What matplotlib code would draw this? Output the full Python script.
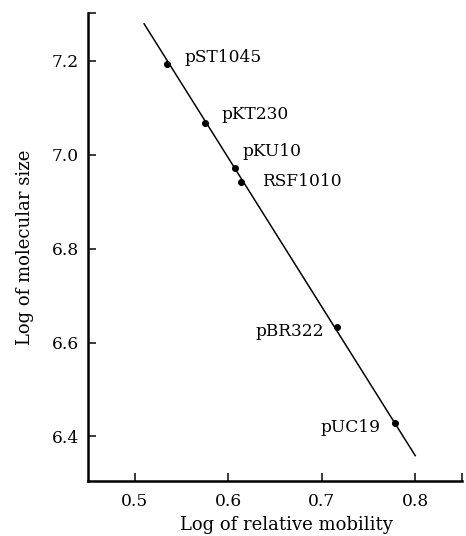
import matplotlib
matplotlib.use("Agg")
import matplotlib.pyplot as plt

# plasmid standards: log relative mobility vs log molecular size
plasmids = ["pST1045", "pKT230", "pKU10", "RSF1010", "pBR322", "pUC19"]
log_mobility = [0.534, 0.575, 0.607, 0.614, 0.716, 0.778]
log_size = [7.193, 7.068, 6.972, 6.942, 6.634, 6.428]

# fitted line ends
fit_x = [0.510, 0.800]
fit_y = [7.279, 6.359]

# label offsets (points), left side labels for the lower two
offsets = [(18, 7), (17, 8), (8, 16), (21, 0), (-13, -5), (-14, -4)]
aligns = ["left", "left", "left", "left", "right", "right"]

plt.rcParams["font.family"] = ["DejaVu Serif"]

fig = plt.figure(figsize=(466 / 72, 536 / 72), dpi=72)
ax = fig.add_axes([88 / 466, 55 / 536, 374 / 466, 468 / 536])

ax.plot(fit_x, fit_y, color="black", lw=1.5)
ax.plot(log_mobility, log_size, "o", color="black", ms=6)

for name, x, y, off, ha in zip(plasmids, log_mobility, log_size, offsets, aligns):
    ax.annotate(name, (x, y), xytext=off, textcoords="offset points",
                ha=ha, va="center", fontsize=17)

ax.set_xlim(0.45, 0.85)
ax.set_ylim(6.305, 7.302)
ax.set_xticks([0.5, 0.6, 0.7, 0.8, 0.85])
ax.set_xticklabels(["0.5", "0.6", "0.7", "0.8", ""])
ax.set_yticks([6.4, 6.6, 6.8, 7.0, 7.2, 7.302])
ax.set_yticklabels(["6.4", "6.6", "6.8", "7.0", "7.2", ""])
ax.tick_params(direction="in", length=8, width=1.5, labelsize=17)
ax.tick_params(axis="x", pad=12)
ax.tick_params(axis="y", pad=9)

ax.spines["top"].set_visible(False)
ax.spines["right"].set_visible(False)
ax.spines["left"].set_linewidth(2.5)
ax.spines["bottom"].set_linewidth(2.5)

ax.set_xlabel("Log of relative mobility", fontsize=18, labelpad=2)
ax.xaxis.set_label_coords(0.53, -0.075)
ax.set_ylabel("Log of molecular size", fontsize=18, labelpad=18)

fig.savefig("out.png", dpi=72)
